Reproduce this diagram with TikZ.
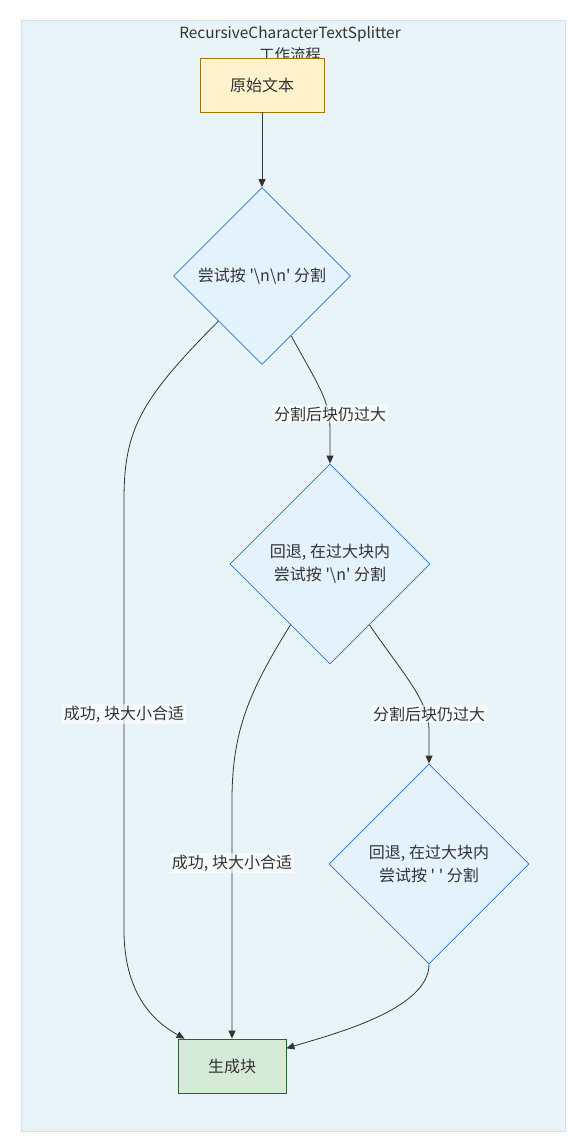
\documentclass[tikz,border=0pt]{standalone}
\usepackage{fontspec}
\setmainfont{Noto Sans CJK SC}
\usetikzlibrary{shapes.geometric,arrows.meta}
\newcommand\myq{\textquotesingle}
\newcommand\mybs{\textbackslash}
\definecolor{clusterfill}{HTML}{E8F4F8}
\definecolor{clusterdraw}{HTML}{CFE3EA}
\definecolor{startfill}{HTML}{FFF2CC}
\definecolor{startdraw}{HTML}{9C7410}
\definecolor{decfill}{HTML}{E3F2FD}
\definecolor{decdraw}{HTML}{2B74D6}
\definecolor{endfill}{HTML}{D5EBD8}
\definecolor{enddraw}{HTML}{2F5E35}
\definecolor{edgecol}{HTML}{333333}
\definecolor{txtcol}{HTML}{333333}
\tikzset{
  every node/.style={font=\fontsize{16}{23}\selectfont, text=txtcol},
  procbox/.style={draw=#1, line width=0.8pt, inner sep=0pt, align=center},
  decbox/.style={diamond, aspect=1, draw=decdraw, fill=decfill, line width=0.8pt, inner sep=0pt, align=center},
  edge/.style={draw=edgecol, line width=0.8pt, -{Triangle[length=8pt,width=7pt]}},
  elabel/.style={fill=white, fill opacity=0.6, text opacity=1, inner sep=2pt},
}
\begin{document}
\begin{tikzpicture}[x=1pt,y=-1pt]
\useasboundingbox (0,0) rectangle (586,1146);
\fill[white] (0,0) rectangle (586,1146);
\draw[draw=clusterdraw, fill=clusterfill, line width=0.8pt] (21,20) rectangle (565,1131);
\node[align=center, font=\fontsize{15.4}{22}\selectfont] (title) at (290,44) {RecursiveCharacterTextSplitter\\工作流程};

\node[procbox=startdraw, fill=startfill, minimum width=124pt, minimum height=54pt] (a) at (262,85) {原始文本};
\node[decbox, minimum width=177pt, minimum height=177pt] (d1) at (262,276) {尝试按 \myq\mybs n\mybs n\myq{} 分割};
\node[decbox, minimum width=200pt, minimum height=200pt] (d2) at (330,564) {回退, 在过大块内\\尝试按 \myq\mybs n\myq{} 分割};
\node[decbox, minimum width=200pt, minimum height=200pt] (d3) at (429,864) {回退, 在过大块内\\尝试按 \myq{} \myq{} 分割};
\node[procbox=enddraw, fill=endfill, minimum width=108pt, minimum height=54pt] (g) at (232,1066) {生成块};

\draw[edge] (a.south) -- (d1.north);
\draw[edge] (d1.-64) .. controls (318,385) and (330,400) .. (330,430) -- (d2.north);
\draw[edge] (d1.-134) .. controls (140,400) and (124,430) .. (124,500) -- (124,930) .. controls (124,1000) and (160,1025) .. (g.150);
\draw[edge] (d2.-123) .. controls (250,690) and (232,730) .. (232,800) -- (g.north);
\draw[edge] (d2.-57) .. controls (400,670) and (429,700) .. (429,730) -- (d3.north);
\draw[edge] (d3.south) .. controls (429,1010) and (330,1035) .. (g.18);

\node[elabel] (l1) at (330,414) {分割后块仍过大};
\node[elabel] (l2) at (124,714) {成功, 块大小合适};
\node[elabel] (l3) at (232,863) {成功, 块大小合适};
\node[elabel] (l4) at (429,714) {分割后块仍过大};
\end{tikzpicture}
\end{document}
